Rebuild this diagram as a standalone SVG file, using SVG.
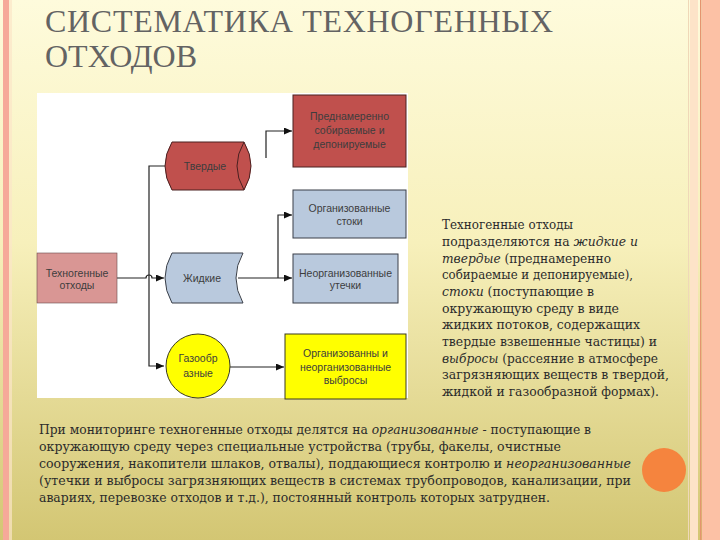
<svg xmlns="http://www.w3.org/2000/svg" width="720" height="540" viewBox="0 0 720 540">
<defs>
<linearGradient id="bg" x1="0" y1="0" x2="0" y2="1">
<stop offset="0" stop-color="#fefbdc"/>
<stop offset="0.45" stop-color="#f7f0bb"/>
<stop offset="1" stop-color="#d3c673"/>
</linearGradient>
<marker id="arr" markerWidth="8" markerHeight="7" refX="8" refY="3.5" orient="auto" markerUnits="userSpaceOnUse">
<path d="M0,0 L8,3.5 L0,7 z" fill="#111"/>
</marker>
<style>
.title{font-size:32px;fill:#636363}
.body{font-size:12.2px;fill:#2b2b2b}
.it{font-style:italic}
.nt{font-size:10.5px;fill:#3d3d3d;text-anchor:middle}
.red{fill:#c0504d;stroke:#4a2020;stroke-width:1}
.blue{fill:#b9c9dd;stroke:#3a3f48;stroke-width:1}
.pink{fill:#d99694;stroke:#6a4a4a;stroke-width:0.6}
.yel{fill:#ffff00;stroke:#3a3a20;stroke-width:1}
.con{fill:none;stroke:#222;stroke-width:1.2}
</style>
</defs>
<rect width="720" height="540" fill="url(#bg)"/>
<rect x="3" y="0" width="6" height="540" fill="#f6a999"/>
<rect x="9" y="0" width="3" height="540" fill="#fbe6c8" opacity="0.7"/>
<rect x="688" y="0" width="1" height="540" fill="#efd8b8"/>
<rect x="690" y="0" width="8" height="540" fill="#fde3c8"/>
<rect x="700" y="0" width="1.5" height="540" fill="#e5946f"/>
<rect x="702" y="0" width="18" height="540" fill="#fcc1a5"/>

<g font-family="'Liberation Serif', 'DejaVu Serif', serif">
<text class="title" x="45" y="32" textLength="508" lengthAdjust="spacing">СИСТЕМАТИКА ТЕХНОГЕННЫХ</text>
<text class="title" x="45" y="67" textLength="152" lengthAdjust="spacing">ОТХОДОВ</text>
</g>

<rect x="37" y="93" width="371" height="305" fill="#ffffff"/>

<g id="connectors">
<path class="con" d="M117,278 H146 a3,3 0 0 1 6,0 H164" marker-end="url(#arr)"/>
<path class="con" d="M165,166 H149 V366 H164" marker-end="url(#arr)"/>
<path class="con" d="M266,158 V131 H292" marker-end="url(#arr)"/>
<path class="con" d="M238,278 H292" marker-end="url(#arr)"/>
<path class="con" d="M278,278 V215 H292" marker-end="url(#arr)"/>
<path class="con" d="M230,367 H284" marker-end="url(#arr)"/>
</g>

<g font-family="'Liberation Sans', Arial, sans-serif">
<g id="n-predn">
<rect class="red" x="293" y="95" width="113" height="72"/>
<text class="nt" x="349.5" y="119.5">Преднамеренно</text>
<text class="nt" x="349.5" y="133.5">собираемые и</text>
<text class="nt" x="349.5" y="147.5">депонируемые</text>
</g>

<g id="n-tverd">
<path class="red" d="M172,142 H244 Q258,166 244,190 H172 Q158,166 172,142 z"/>
<path fill="none" stroke="#4a2020" stroke-width="1" d="M244,142 Q230,166 244,190"/>
<text class="nt" x="205" y="169.5">Твердые</text>
</g>

<g id="n-stoki">
<rect class="blue" x="293" y="190" width="113" height="48"/>
<text class="nt" x="349.5" y="211.5">Организованные</text>
<text class="nt" x="349.5" y="224.5">стоки</text>
</g>

<g id="n-tehno">
<rect class="pink" x="37" y="253" width="80" height="50"/>
<text class="nt" x="77" y="276.5">Техногенные</text>
<text class="nt" x="77" y="288.5">отходы</text>
</g>

<g id="n-zhidk">
<path class="blue" d="M172,253 H243 Q229,278 243,303 H172 Q158,278 172,253 z"/>
<text class="nt" x="202" y="281.5">Жидкие</text>
</g>

<g id="n-neorg">
<rect class="blue" x="293" y="254" width="105" height="49"/>
<text class="nt" x="345.5" y="276.5">Неорганизованные</text>
<text class="nt" x="345.5" y="288.5">утечки</text>
</g>

<g id="n-gaz">
<circle class="yel" cx="198" cy="366" r="32"/>
<text class="nt" x="198" y="361.5">Газообр</text>
<text class="nt" x="198" y="376.5">азные</text>
</g>

<g id="n-vybr">
<rect class="yel" x="285" y="334" width="121" height="65"/>
<text class="nt" x="345.5" y="356.5">Организованны и</text>
<text class="nt" x="345.5" y="370.5">неорганизованные</text>
<text class="nt" x="345.5" y="383.5">выбросы</text>
</g>
</g>

<g id="text-right" class="body" font-family="'DejaVu Serif', 'Liberation Serif', serif">
<text x="442" y="229" textLength="131" lengthAdjust="spacingAndGlyphs">Техногенные отходы</text>
<text x="442" y="246" textLength="196" lengthAdjust="spacingAndGlyphs">подразделяются на <tspan class="it">жидкие и</tspan></text>
<text x="442" y="262.5" textLength="169" lengthAdjust="spacingAndGlyphs"><tspan class="it">твердые</tspan> (преднамеренно</text>
<text x="442" y="279" textLength="191" lengthAdjust="spacingAndGlyphs">собираемые и депонируемые),</text>
<text x="442" y="296" textLength="152" lengthAdjust="spacingAndGlyphs"><tspan class="it">стоки</tspan> (поступающие в</text>
<text x="442" y="312.5" textLength="177" lengthAdjust="spacingAndGlyphs">окружающую среду в виде</text>
<text x="442" y="329" textLength="198" lengthAdjust="spacingAndGlyphs">жидких потоков, содержащих</text>
<text x="442" y="346" textLength="215" lengthAdjust="spacingAndGlyphs">твердые взвешенные частицы) и</text>
<text x="442" y="362.5" textLength="216" lengthAdjust="spacingAndGlyphs"><tspan class="it">выбросы</tspan> (рассеяние в атмосфере</text>
<text x="442" y="379" textLength="227" lengthAdjust="spacingAndGlyphs">загрязняющих веществ в твердой,</text>
<text x="442" y="396" textLength="217" lengthAdjust="spacingAndGlyphs">жидкой и газообразной формах).</text>
</g>

<g id="text-bottom" class="body" font-family="'DejaVu Serif', 'Liberation Serif', serif">
<text x="39" y="434" textLength="552" lengthAdjust="spacingAndGlyphs">При мониторинге техногенные отходы делятся на <tspan class="it">организованные</tspan> - поступающие в</text>
<text x="39" y="451" textLength="522" lengthAdjust="spacingAndGlyphs">окружающую среду через специальные устройства (трубы, факелы, очистные</text>
<text x="39" y="468" textLength="592" lengthAdjust="spacingAndGlyphs">сооружения, накопители шлаков, отвалы), поддающиеся контролю и <tspan class="it">неорганизованные</tspan></text>
<text x="39" y="485" textLength="592" lengthAdjust="spacingAndGlyphs">(утечки и выбросы загрязняющих веществ в системах трубопроводов, канализации, при</text>
<text x="39" y="502" textLength="511" lengthAdjust="spacingAndGlyphs">авариях, перевозке отходов и т.д.), постоянный контроль которых затруднен.</text>
</g>

<circle cx="664" cy="470" r="22" fill="#f5843e"/>
</svg>
